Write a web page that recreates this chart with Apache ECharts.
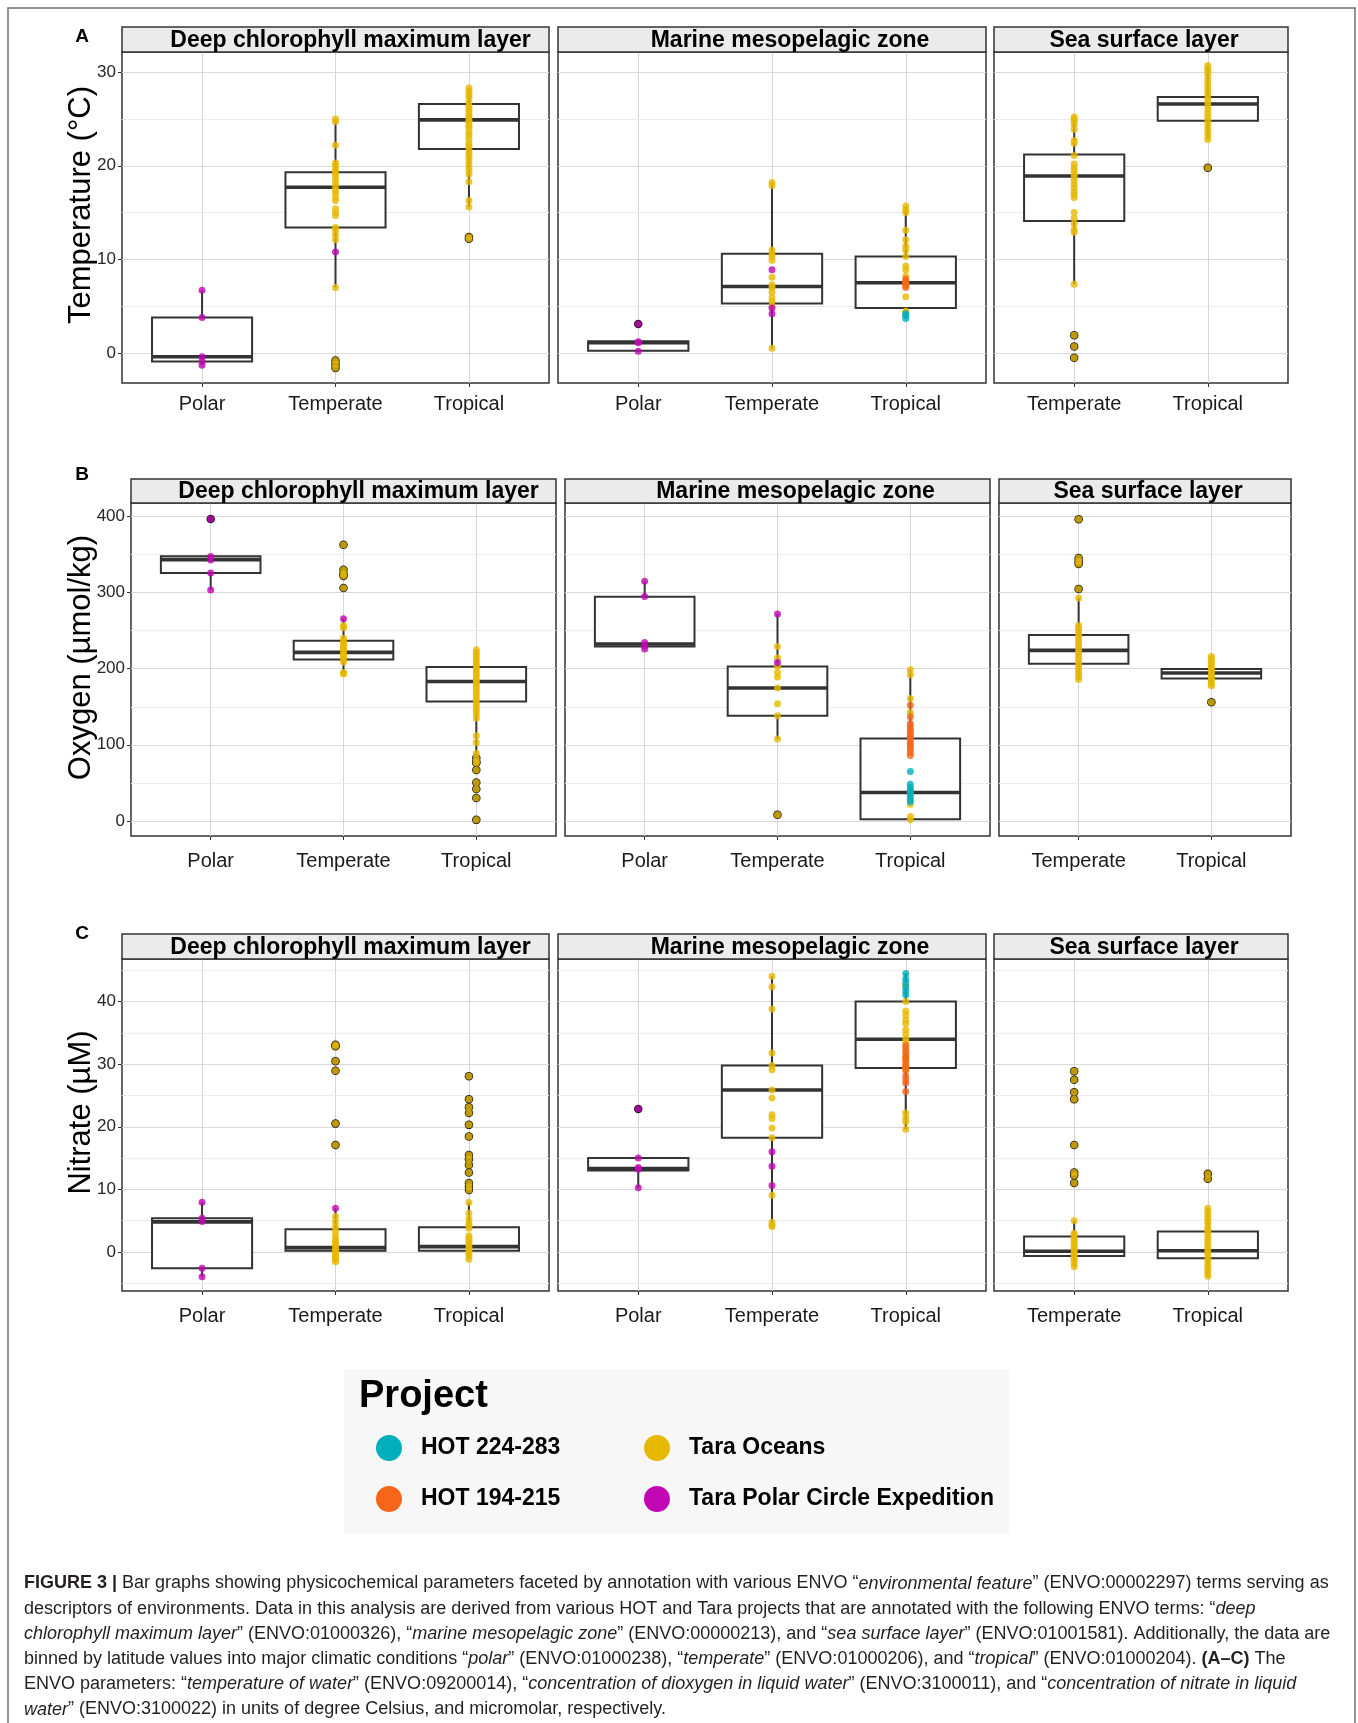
<!DOCTYPE html>
<html><head><meta charset="utf-8">
<script src="https://cdn.jsdelivr.net/npm/echarts@6/dist/echarts.min.js"></script>
<style>html,body{margin:0;padding:0;background:#fff}#c{width:1358px;height:1723px}</style>
</head><body><div id="c"></div><script>
// ---------------- DATA ----------------
const climates3 = ['Polar', 'Temperate', 'Tropical'];
const climates2 = ['Temperate', 'Tropical'];
const facetNames = ['Deep chlorophyll maximum layer', 'Marine mesopelagic zone', 'Sea surface layer'];
const projectNames = ['HOT 224-283', 'HOT 194-215', 'Tara Oceans', 'Tara Polar Circle Expedition'];
const projectCodes = ['H224', 'H194', 'TO', 'TPC'];
const projectColors = ['#00AFBB', '#F5651A', '#E7B800', '#C106B4'];

// Panel A: Temperature (°C). Box = [whisker low, Q1, median, Q3, whisker high]
const tempTicks = [0, 10, 20, 30];
const tempMinor = [5, 15, 25];
const tempRange = [-3.2, 32.15];
const tempDcmBox = [[-1.3, -0.9, -0.4, 3.8, 6.7], [7.0, 13.4, 17.7, 19.3, 25.0], [15.6, 21.8, 24.9, 26.6, 28.3]];
const tempDcmPoints = [
  ['Polar', 'TPC', [6.7, 3.8, -0.4, -0.9, -1.3]],
  ['Temperate', 'TO', [25.0, 24.7, 22.2, 20.3, 20.0, 19.6, 19.3, 19.0, 18.6, 18.2, 17.8, 17.4, 17.1, 16.6, 16.3, 15.4, 15.0, 14.7, 13.4, 13.1, 12.6, 12.1, 7.0, -0.8, -1.2, -1.6]],
  ['Temperate', 'TPC', [10.8]],
  ['Tropical', 'TO', [28.3, 28.0, 27.6, 27.3, 26.8, 26.4, 26.1, 25.8, 25.4, 25.2, 24.9, 24.7, 24.3, 24.1, 23.6, 23.3, 22.9, 22.4, 22.1, 21.8, 21.4, 21.1, 20.7, 20.3, 19.9, 19.5, 19.1, 18.3, 16.3, 15.6, 12.4, 12.2]]
];
const tempMesoBox = [[0.2, 0.25, 1.1, 1.25, 1.25], [0.5, 5.3, 7.1, 10.6, 18.2], [3.7, 4.8, 7.5, 10.3, 15.7]];
const tempMesoPoints = [
  ['Polar', 'TPC', [3.1, 1.2, 1.1, 0.2]],
  ['Temperate', 'TO', [18.2, 17.9, 11.0, 10.6, 10.3, 9.9, 8.1, 7.3, 7.0, 6.5, 5.9, 5.5, 5.0, 0.5]],
  ['Temperate', 'TPC', [8.9, 4.8, 4.2]],
  ['Tropical', 'TO', [15.7, 15.3, 15.0, 13.1, 12.1, 11.4, 11.0, 10.3, 9.3, 8.9, 8.2, 7.5, 6.0, 4.5, 4.3]],
  ['Tropical', 'H194', [7.9, 7.6, 7.2, 7.0]],
  ['Tropical', 'H224', [4.2, 4.0, 3.7]]
];
const tempSurfBox = [[7.35, 14.1, 18.9, 21.2, 25.2], [22.8, 24.8, 26.6, 27.35, 30.7]];
const tempSurfPoints = [
  ['Temperate', 'TO', [25.2, 25.0, 24.8, 24.4, 23.9, 22.7, 22.4, 21.1, 20.2, 19.8, 19.5, 19.1, 18.8, 18.4, 18.0, 17.6, 17.2, 16.9, 16.6, 15.0, 14.4, 13.8, 13.2, 12.9, 7.35, 1.9, 0.7, -0.5]],
  ['Tropical', 'TO', [30.7, 30.4, 30.1, 29.7, 29.2, 28.8, 28.4, 28.0, 27.6, 27.2, 26.8, 26.4, 26.0, 25.6, 25.2, 24.8, 24.4, 24.0, 23.6, 23.2, 22.8, 19.8]]
];

// Panel B: Oxygen (µmol/kg)
const oxyTicks = [0, 100, 200, 300, 400];
const oxyMinor = [50, 150, 250, 350];
const oxyRange = [-19.9, 417.9];
const oxyDcmBox = [[303.5, 325.9, 343.4, 347.8, 347.8], [193, 212.3, 221.5, 236.8, 265.8], [89, 157, 183.3, 202.2, 225]];
const oxyDcmPoints = [
  ['Polar', 'TPC', [397, 347.5, 343, 326, 303.5]],
  ['Temperate', 'TO', [363, 330, 325, 322, 306, 257, 254, 240, 236, 233, 230, 227, 224, 221, 218, 215, 212, 209, 195, 193]],
  ['Temperate', 'TPC', [265.8]],
  ['Tropical', 'TO', [225, 221, 218, 214, 211, 207, 204, 200, 197, 193, 190, 186, 183, 180, 176, 172, 168, 164, 160, 156, 152, 148, 144, 140, 135, 112, 103, 89, 82.5, 78, 76, 67, 50.4, 42, 30, 1.3]]
];
const oxyMesoBox = [[226, 229.4, 232.5, 294.7, 315], [107.5, 138.2, 174.6, 203, 271.9], [0.8, 2.0, 37.3, 108.3, 198.7]];
const oxyMesoPoints = [
  ['Polar', 'TPC', [315, 295, 234.6, 230.3, 226]],
  ['Temperate', 'TO', [229.4, 214, 203, 195, 189, 174.6, 154, 138.2, 107.5, 7.9]],
  ['Temperate', 'TPC', [271.9, 208.3]],
  ['Tropical', 'TO', [198.7, 192, 161, 142.5, 112, 100, 37.3, 21.9, 5.7, 1.3]],
  ['Tropical', 'H194', [152, 137, 128, 124, 120, 117, 113, 110, 106, 102, 98, 94, 90, 86]],
  ['Tropical', 'H224', [64.9, 48, 44, 40, 36, 32, 28, 25]]
];
const oxySurfBox = [[185.5, 206.6, 224.1, 244.3, 293], [177.6, 187.3, 194.3, 199.6, 216]];
const oxySurfPoints = [
  ['Temperate', 'TO', [396.5, 345.6, 341, 337.7, 304.8, 293, 257, 254, 250, 246, 242, 238, 234, 230, 226, 222, 218, 214, 210, 206, 202, 198, 194, 190, 186]],
  ['Tropical', 'TO', [216, 213, 210, 207, 204, 201, 198, 195, 192, 189, 186, 183, 180, 177.6, 156]]
];

// Panel C: Nitrate (µM)
const nitTicks = [0, 10, 20, 30, 40];
const nitMinor = [-5, 5, 15, 25, 35, 45];
const nitRange = [-6.24, 46.8];
const nitDcmBox = [[-3.95, -2.6, 4.8, 5.4, 7.95], [-1.55, 0.21, 0.69, 3.63, 7.0], [-1.15, 0.21, 0.85, 3.95, 7.9]];
const nitDcmPoints = [
  ['Polar', 'TPC', [7.95, 5.4, 4.85, -2.6, -3.95]],
  ['Temperate', 'TO', [33.1, 32.85, 30.45, 28.96, 20.5, 17.1, 5.65, 4.8, 4.0, 3.3, 2.6, 2.0, 1.6, 1.2, 0.8, 0.4, 0.1, -0.3, -0.6, -0.9, -1.2, -1.55]],
  ['Temperate', 'TPC', [7.0]],
  ['Tropical', 'TO', [28.05, 24.4, 23.1, 22.2, 20.3, 18.45, 15.5, 14.8, 13.9, 12.7, 11.0, 10.4, 9.9, 7.9, 6.2, 5.3, 4.6, 4.2, 3.8, 2.6, 2.2, 1.8, 1.4, 1.0, 0.6, 0.2, -0.2, -0.6, -1.15]]
];
const nitMesoBox = [[10.24, 13.0, 13.33, 15.0, 15.0], [4.05, 18.24, 25.87, 29.8, 44.05], [19.6, 29.4, 33.97, 40.0, 44.5]];
const nitMesoPoints = [
  ['Polar', 'TPC', [22.83, 15.0, 13.5, 13.2, 10.24]],
  ['Temperate', 'TO', [44.05, 42.35, 38.8, 31.8, 29.8, 29.1, 25.87, 24.6, 21.9, 21.3, 19.8, 18.24, 9.07, 4.75, 4.3, 4.05]],
  ['Temperate', 'TPC', [16.0, 13.7, 10.6]],
  ['Tropical', 'TO', [42.56, 40.0, 38.5, 37.8, 37.0, 36.5, 35.5, 34.8, 34.0, 33.5, 31.9, 30.9, 29.3, 22.2, 21.4, 20.8, 19.6]],
  ['Tropical', 'H194', [33.0, 32.6, 32.0, 31.4, 31.0, 30.5, 30.0, 29.6, 29.0, 28.1, 27.5, 27.0, 25.65]],
  ['Tropical', 'H224', [44.5, 43.6, 43.0, 42.3, 41.7, 41.1]]
];
const nitSurfBox = [[-2.35, -0.64, 0.1, 2.45, 5.0], [-3.9, -1.0, 0.2, 3.25, 7.0]];
const nitSurfPoints = [
  ['Temperate', 'TO', [28.85, 27.5, 25.5, 24.4, 17.1, 12.7, 12.2, 11.0, 5.0, 3.0, 2.7, 2.2, 1.8, 1.5, 1.0, 0.6, 0.2, -0.2, -0.5, -1.0, -1.4, -1.9, -2.35]],
  ['Tropical', 'TO', [12.5, 11.7, 7.0, 6.4, 6.0, 5.4, 5.0, 4.6, 4.0, 3.5, 3.1, 2.5, 2.0, 1.6, 1.0, 0.5, 0.0, -0.4, -1.0, -1.5, -2.1, -2.5, -3.0, -3.4, -3.9]]
];

const yTitles = ['Temperature (°C)', 'Oxygen (µmol/kg)', 'Nitrate (µM)'];
const panelLetters = ['A', 'B', 'C'];
const legendTitle = 'Project';
const captionLines = [
  '{b|FIGURE 3 |} Bar graphs showing physicochemical parameters faceted by annotation with various ENVO “{i|environmental feature}” (ENVO:00002297) terms serving as',
  'descriptors of environments. Data in this analysis are derived from various HOT and Tara projects that are annotated with the following ENVO terms: “{i|deep}',
  '{i|chlorophyll maximum layer}” (ENVO:01000326), “{i|marine mesopelagic zone}” (ENVO:00000213), and “{i|sea surface layer}” (ENVO:01001581). Additionally, the data are',
  'binned by latitude values into major climatic conditions “{i|polar}” (ENVO:01000238), “{i|temperate}” (ENVO:01000206), and “{i|tropical}” (ENVO:01000204). {b|(A–C)} The',
  'ENVO parameters: “{i|temperature of water}” (ENVO:09200014), “{i|concentration of dioxygen in liquid water}” (ENVO:3100011), and “{i|concentration of nitrate in liquid}',
  '{i|water}” (ENVO:3100022) in units of degree Celsius, and micromolar, respectively.'
];

// ---------------- LAYOUT ----------------
const FONT = "'Liberation Sans', Arial, Helvetica, sans-serif";
const panels = [
  { range: tempRange, ticks: tempTicks, minor: tempMinor, boxes: [tempDcmBox, tempMesoBox, tempSurfBox], points: [tempDcmPoints, tempMesoPoints, tempSurfPoints] },
  { range: oxyRange, ticks: oxyTicks, minor: oxyMinor, boxes: [oxyDcmBox, oxyMesoBox, oxySurfBox], points: [oxyDcmPoints, oxyMesoPoints, oxySurfPoints] },
  { range: nitRange, ticks: nitTicks, minor: nitMinor, boxes: [nitDcmBox, nitMesoBox, nitSurfBox], points: [nitDcmPoints, nitMesoPoints, nitSurfPoints] }
];
const layout = [
  { top: 52, bottom: 383, stripTop: 27, labelY: 37, xMargin: 11, xs: [[122, 549], [558, 986], [994, 1288]] },
  { top: 503, bottom: 836, stripTop: 479, labelY: 475, xMargin: 15, xs: [[131, 556], [565, 990], [999, 1291]] },
  { top: 959, bottom: 1291, stripTop: 934, labelY: 934, xMargin: 15, xs: [[122, 549], [558, 986], [994, 1288]] }
];
const facetCats = [climates3, climates3, climates2];
const titleOffsets = [15, 18, 3];
const drawOrder = ['TO', 'H194', 'H224', 'TPC'];
const BOX_HALF_STEPS = 1.875; // 0.375 category units, 5 steps per unit

function paddedAxis(cats) {
  const n = (cats.length - 1) * 5 + 7;
  const data = [];
  for (let i = 0; i < n; i++) data.push({ value: 'pad' + i });
  const idx = cats.map((c, i) => 3 + 5 * i);
  idx.forEach((k, i) => { data[k] = { value: cats[i] }; });
  return { data, idx };
}

function renderBox(params, api) {
  const idx = api.value(0);
  const lo = api.coord([idx, api.value(1)]);
  const q1 = api.coord([idx, api.value(2)]);
  const md = api.coord([idx, api.value(3)]);
  const q3 = api.coord([idx, api.value(4)]);
  const hi = api.coord([idx, api.value(5)]);
  const prev = api.coord([idx - 1, api.value(3)]);
  const hw = Math.abs(md[0] - prev[0]) * BOX_HALF_STEPS;
  const x = md[0];
  const st = { stroke: '#333333', lineWidth: 2 };
  return {
    type: 'group', children: [
      { type: 'line', shape: { x1: x, y1: hi[1], x2: x, y2: q3[1] }, style: st },
      { type: 'line', shape: { x1: x, y1: q1[1], x2: x, y2: lo[1] }, style: st },
      { type: 'rect', shape: { x: x - hw, y: q3[1], width: 2 * hw, height: q1[1] - q3[1] }, style: { fill: '#ffffff', stroke: '#333333', lineWidth: 2 } },
      { type: 'line', shape: { x1: x - hw, y1: md[1], x2: x + hw, y2: md[1] }, style: { stroke: '#333333', lineWidth: 3.6 } }
    ]
  };
}

const grids = [], xAxes = [], yAxes = [], series = [], graphics = [];

graphics.push({ type: 'rect', z: 0, shape: { x: 8, y: 8, width: 1347, height: 1730 }, style: { fill: 'none', stroke: '#707070', lineWidth: 1.5 } });

panels.forEach((p, r) => {
  const L = layout[r];
  facetCats.forEach((cats, f) => {
    const g = grids.length;
    const [x0, x1] = L.xs[f];
    grids.push({ left: x0, top: L.top, width: x1 - x0, height: L.bottom - L.top, show: true, backgroundColor: '#ffffff', borderColor: '#333333', borderWidth: 1.5 });
    const ax = paddedAxis(cats);
    const isReal = (i) => ax.idx.indexOf(i) >= 0;
    xAxes.push({
      gridIndex: g, type: 'category', boundaryGap: false, data: ax.data, position: 'bottom',
      axisLine: { show: false, onZero: false },
      axisTick: { show: true, length: 4, interval: (i) => isReal(i), lineStyle: { color: '#333333', width: 1 } },
      axisLabel: { interval: (i) => isReal(i), fontSize: 20, color: '#1a1a1a', margin: L.xMargin, fontFamily: FONT },
      splitLine: { show: true, interval: (i) => isReal(i), lineStyle: { color: '#d6d6d6', width: 1 } }
    });
    yAxes.push({
      gridIndex: g, type: 'value', min: p.range[0], max: p.range[1], splitNumber: 4, position: 'left',
      axisLine: { show: false, onZero: false },
      axisTick: { show: f === 0, length: 4, customValues: p.ticks, lineStyle: { color: '#333333' } },
      axisLabel: { show: f === 0, fontSize: 17, color: '#262626', margin: 6, fontFamily: FONT, customValues: p.ticks,
        formatter: (v) => (p.ticks.indexOf(v) >= 0 ? String(v) : '') },
      splitLine: { show: true, lineStyle: { color: '#d9d9d9', width: 1 } }
    });
    const boxData = p.boxes[f].map((b, i) => [ax.idx[i]].concat(b));
    series.push({
      type: 'custom', xAxisIndex: g, yAxisIndex: g, renderItem: renderBox, data: boxData,
      encode: { x: 0, y: [1, 2, 3, 4, 5] }, z: 2, silent: true,
      markLine: { silent: true, z: 1, symbol: ['none', 'none'], label: { show: false }, animation: false,
        lineStyle: { color: '#ececec', width: 1, type: 'solid' }, emphasis: { disabled: true },
        data: p.minor.map((v) => ({ yAxis: v })) }
    });
    const outl = [];
    const byProj = { TO: [], H194: [], H224: [], TPC: [] };
    p.points[f].forEach(([cat, code, vals]) => {
      const ci = cats.indexOf(cat);
      const b = p.boxes[f][ci];
      vals.forEach((v) => {
        byProj[code].push([ax.idx[ci], v]);
        if (v < b[0] - 1e-6 || v > b[4] + 1e-6) outl.push([ax.idx[ci], v]);
      });
    });
    series.push({ type: 'scatter', xAxisIndex: g, yAxisIndex: g, data: outl, symbolSize: 8.5, itemStyle: { color: '#1a1a1a', opacity: 1 }, z: 3, silent: true });
    drawOrder.forEach((code) => {
      const k = projectCodes.indexOf(code);
      series.push({ type: 'scatter', name: projectNames[k], xAxisIndex: g, yAxisIndex: g, data: byProj[code], symbolSize: 7,
        itemStyle: { color: projectColors[k], opacity: 0.8 }, z: 4, silent: true });
    });
    // strip
    graphics.push({ type: 'rect', z: 1, shape: { x: x0, y: L.stripTop, width: x1 - x0, height: L.top - L.stripTop }, style: { fill: '#ebebeb', stroke: '#333333', lineWidth: 1.5 } });
    graphics.push({ type: 'text', z: 2, x: (x0 + x1) / 2 + titleOffsets[f], y: (L.stripTop + L.top) / 2 + 1,
      style: { text: facetNames[f], fontSize: 23, fontWeight: 'bold', fontFamily: FONT, fill: '#000', align: 'center', verticalAlign: 'middle' } });
  });
  graphics.push({ type: 'text', z: 2, x: 82, y: L.labelY, style: { text: panelLetters[r], fontSize: 19, fontWeight: 'bold', fontFamily: FONT, fill: '#000', align: 'center', verticalAlign: 'middle' } });
  graphics.push({ type: 'text', z: 2, x: 81, y: (L.stripTop + L.bottom) / 2, rotation: Math.PI / 2,
    style: { text: yTitles[r], fontSize: 31, fontFamily: FONT, fill: '#000', align: 'center', verticalAlign: 'middle' } });
});

// legend box
graphics.push({ type: 'rect', z: 0, shape: { x: 344, y: 1369, width: 665, height: 165 }, style: { fill: '#f7f7f7' } });
graphics.push({ type: 'text', z: 1, x: 359, y: 1397, style: { text: legendTitle, fontSize: 38, fontWeight: 'bold', fontFamily: FONT, fill: '#000', align: 'left', verticalAlign: 'middle' } });

// caption
captionLines.forEach((line, i) => {
  graphics.push({ type: 'text', z: 1, x: 24, y: 1583.5 + i * 25.2,
    style: { text: line, fontSize: 18, fontFamily: FONT, fill: '#231f20', align: 'left', verticalAlign: 'middle',
      rich: { b: { fontWeight: 'bold', fontSize: 18, fontFamily: FONT, fill: '#231f20' }, i: { fontStyle: 'italic', fontSize: 18, fontFamily: FONT, fill: '#231f20' } } } });
});

const legendBase = { orient: 'vertical', itemWidth: 26, itemHeight: 26, itemGap: 25, icon: 'circle', selectedMode: false,
  textStyle: { fontSize: 23, fontWeight: 'bold', color: '#000', fontFamily: FONT, padding: [0, 0, 0, 14] },
  itemStyle: { opacity: 1, borderWidth: 0 } };

const chart = echarts.init(document.getElementById('c'), null, { renderer: 'canvas' });
chart.setOption({
  animation: false,
  backgroundColor: '#ffffff',
  grid: grids, xAxis: xAxes, yAxis: yAxes, series: series,
  legend: [
    Object.assign({}, legendBase, { left: 371, top: 1430, data: [projectNames[0], projectNames[1]] }),
    Object.assign({}, legendBase, { left: 639, top: 1430, data: [projectNames[2], projectNames[3]] })
  ],
  graphic: { elements: graphics }
});
</script></body></html>
